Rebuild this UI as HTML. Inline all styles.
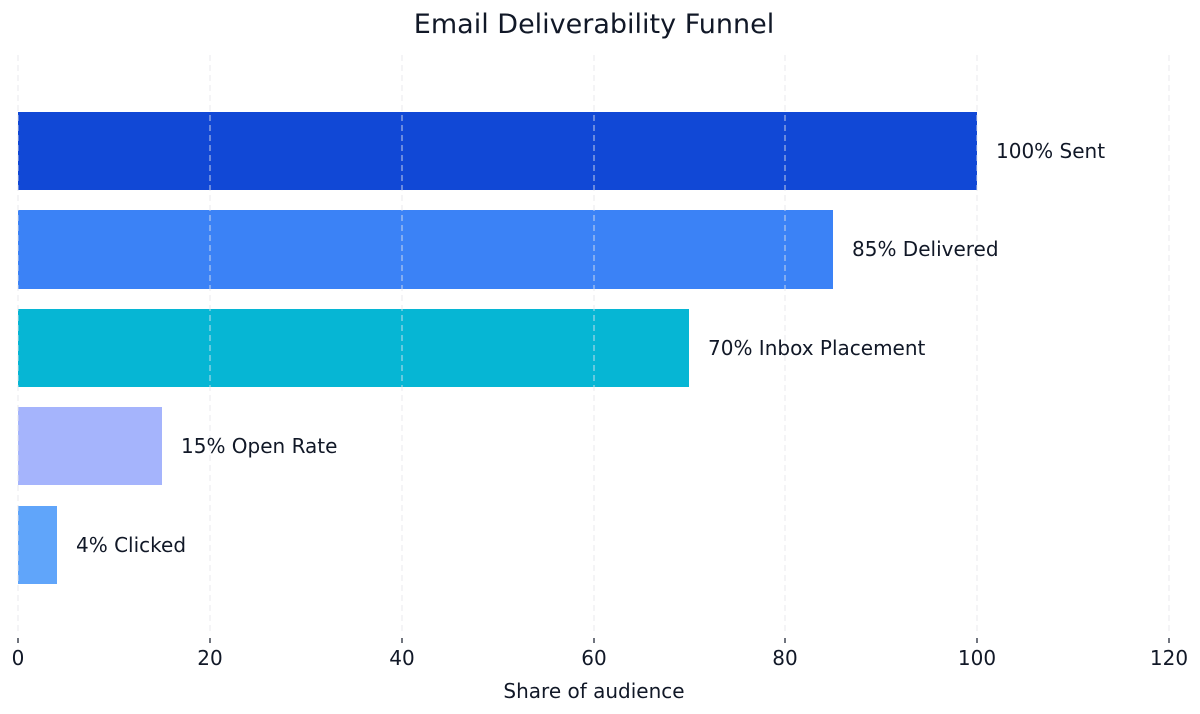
<!DOCTYPE html>
<html><head><meta charset="utf-8"><style>body{margin:0;background:#fff}svg{display:block}</style></head><body>
<svg width="1200" height="714" xmlns="http://www.w3.org/2000/svg" font-family="DejaVu Sans, Liberation Sans, sans-serif" fill="#111827">
<rect width="1200" height="714" fill="#fff"/>
<text x="594" y="33" font-size="27" text-anchor="middle">Email Deliverability Funnel</text>
<g>
<rect x="18" y="112" width="959" height="78" fill="#1148d6"/>
<rect x="18" y="210" width="815" height="79" fill="#3b82f6"/>
<rect x="18" y="309" width="671" height="78" fill="#06b6d4"/>
<rect x="18" y="407" width="144" height="78" fill="#a5b4fc"/>
<rect x="18" y="506" width="39" height="78" fill="#60a5fa"/>
</g>
<g stroke="#e5e7eb" stroke-opacity="0.7" stroke-width="1.2" stroke-dasharray="6,4">
<line x1="18" y1="55" x2="18" y2="633"/>
<line x1="210" y1="55" x2="210" y2="633"/>
<line x1="402" y1="55" x2="402" y2="633"/>
<line x1="594" y1="55" x2="594" y2="633"/>
<line x1="785" y1="55" x2="785" y2="633"/>
<line x1="977" y1="55" x2="977" y2="633"/>
<line x1="1169" y1="55" x2="1169" y2="633"/>
</g>
<g stroke="#111827" stroke-width="1.2">
<line x1="18" y1="638" x2="18" y2="643"/><line x1="210" y1="638" x2="210" y2="643"/><line x1="402" y1="638" x2="402" y2="643"/><line x1="594" y1="638" x2="594" y2="643"/><line x1="785" y1="638" x2="785" y2="643"/><line x1="977" y1="638" x2="977" y2="643"/><line x1="1169" y1="638" x2="1169" y2="643"/>
</g>
<g font-size="20" text-anchor="middle">
<text x="18" y="665">0</text><text x="210" y="665">20</text><text x="402" y="665">40</text><text x="594" y="665">60</text><text x="785" y="665">80</text><text x="977" y="665">100</text><text x="1169" y="665">120</text>
</g>
<text x="594" y="698" font-size="20" text-anchor="middle">Share of audience</text>
<g font-size="20">
<text x="996" y="158">100% Sent</text>
<text x="852" y="256">85% Delivered</text>
<text x="708" y="355">70% Inbox Placement</text>
<text x="181" y="453">15% Open Rate</text>
<text x="76" y="552">4% Clicked</text>
</g>
</svg>
</body></html>
